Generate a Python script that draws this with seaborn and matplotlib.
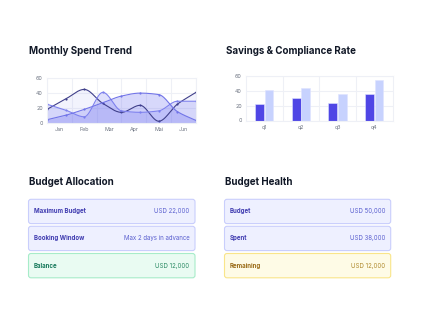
import numpy as np
import pandas as pd
import matplotlib
matplotlib.use("Agg")
import matplotlib.pyplot as plt
from matplotlib.patches import FancyBboxPatch
import seaborn as sns

# ---------------- data ----------------
months = ["Jan", "Feb", "Mar", "Apr", "Mai", "Jun"]
series_a = [18, 32, 45, 26, 14, 23.5, 2, 25, 41]
series_b = [25, 17, 8, 41, 16, 14, 16, 29, 29]
series_c = [4, 10, 18, 27, 36, 40, 38, 15, 3]

quarters = ["q1", "q2", "q3", "q4"]
savings = [22, 30, 24, 35]
compliance = [41, 44, 35, 54]

alloc_labels = ["Maximum Budget", "Booking Window", "Balance"]
alloc_values = ["USD 22,000", "Max 2 days in advance", "USD 12,000"]
health_labels = ["Budget", "Spent", "Remaining"]
health_values = ["USD 50,000", "USD 38,000", "USD 12,000"]

# ---------------- style ----------------
sns.set_theme(style="white")
plt.rcParams["font.family"] = ["Inter", "DejaVu Sans"]

W, H = 422, 322
fig = plt.figure(figsize=(W / 100, H / 100), dpi=100)
fig.patch.set_facecolor("white")


def px_axes(x0, y0, x1, y1):
    return fig.add_axes([x0 / W, 1 - y1 / H, (x1 - x0) / W, (y1 - y0) / H])


def monotone(x, y, n=200):
    x = np.asarray(x, float)
    y = np.asarray(y, float)
    h = np.diff(x)
    d = np.diff(y) / h
    m = np.zeros_like(y)
    m[0], m[-1] = d[0], d[-1]
    for i in range(1, len(y) - 1):
        if d[i - 1] * d[i] <= 0:
            m[i] = 0
        else:
            w1 = 2 * h[i] + h[i - 1]
            w2 = h[i] + 2 * h[i - 1]
            m[i] = (w1 + w2) / (w1 / d[i - 1] + w2 / d[i])
    xs = np.linspace(x[0], x[-1], n)
    idx = np.clip(np.searchsorted(x, xs) - 1, 0, len(x) - 2)
    t = (xs - x[idx]) / h[idx]
    h00 = 2 * t**3 - 3 * t**2 + 1
    h10 = t**3 - 2 * t**2 + t
    h01 = -2 * t**3 + 3 * t**2
    h11 = t**3 - t**2
    ys = h00 * y[idx] + h10 * h[idx] * m[idx] + h01 * y[idx + 1] + h11 * h[idx] * m[idx + 1]
    return xs, ys


tick_color = "#6b7280"
grid_color = "#eef0f6"

# ---------------- line chart ----------------
ax1 = px_axes(47, 78.3, 196, 122.7)
xpos = np.linspace(0, len(months), len(series_a))
styles = [
    (series_a, "#3f3f8a", "#6366f1", 0.08),
    (series_b, "#7e81ee", "#6366f1", 0.20),
    (series_c, "#7174e8", "#6366f1", 0.25),
]
for vals, lc, fc, al in styles:
    xs, ys = monotone(xpos, vals)
    ax1.fill_between(xs, 0, ys, color=fc, alpha=al, lw=0)
    sns.lineplot(x=xs, y=ys, ax=ax1, color=lc, lw=0.8, sort=False)
    sns.scatterplot(x=xpos, y=vals, ax=ax1, color=lc, s=2.5, linewidth=0)
ax1.set_xlim(0, len(months))
ax1.set_ylim(0, 60)
ax1.set_yticks([0, 20, 40, 60])
ax1.set_xticks(np.arange(len(months)) + 0.5)
ax1.set_xticklabels(months)
ax1.set_xticks(np.arange(len(months) + 1), minor=True)
ax1.grid(True, which="minor", axis="x", color=grid_color, lw=0.8)
ax1.grid(True, which="major", axis="y", color=grid_color, lw=0.8)
ax1.set_axisbelow(True)

# ---------------- bar chart ----------------
ax2 = px_axes(246, 75.7, 392.5, 120.5)
bar_df = pd.DataFrame({
    "quarter": quarters * 2,
    "value": savings + compliance,
    "kind": ["Savings"] * 4 + ["Compliance"] * 4,
})
sns.barplot(data=bar_df, x="quarter", y="value", hue="kind", ax=ax2,
            palette=["#4f46e5", "#c7d2fe"], width=0.52, gap=0.08,
            saturation=1, legend=False, edgecolor="#dfe3ff", linewidth=0.4)
ax2.set_ylim(0, 60)
ax2.set_xlim(-0.5, 3.5)
ax2.set_yticks([0, 20, 40, 60])
ax2.set_xticks([0.5, 1.5, 2.5], minor=True)
ax2.grid(True, which="minor", axis="x", color=grid_color, lw=0.8)
ax2.grid(True, which="major", axis="y", color=grid_color, lw=0.8)
ax2.set_axisbelow(True)

for ax in (ax1, ax2):
    ax.set_xlabel("")
    ax.set_ylabel("")
    for s in ax.spines.values():
        s.set_visible(True)
        s.set_color(grid_color)
        s.set_linewidth(0.8)
    ax.tick_params(axis="both", which="both", length=0, labelsize=3.8,
                   colors=tick_color, pad=3)
    ax.set_facecolor("white")

# ---------------- overlay: titles and cards ----------------
ov = fig.add_axes([0, 0, 1, 1])
ov.set_xlim(0, W)
ov.set_ylim(H, 0)
ov.axis("off")
ov.patch.set_alpha(0)

title_kw = dict(fontsize=7.0, fontweight="bold", color="#111827", va="center", ha="left")
ov.text(29, 50.5, "Monthly Spend Trend", **title_kw)
ov.text(226, 50.5, "Savings & Compliance Rate", **title_kw)
ov.text(29, 182, "Budget Allocation", **title_kw)
ov.text(225, 182, "Budget Health", **title_kw)

blue = ("#eef0ff", "#c9cefc", "#3f3bb0", "#5a5fcf")
green = ("#e9fbf2", "#a7ecc9", "#15785a", "#2a8a63")
yellow = ("#fefbe6", "#f9e58a", "#9a6b17", "#b08a2e")
card_tops = [199.3, 226.3, 253.5]
card_h = 24.3


def card(x0, x1, y0, label, value, sty):
    fc, ec, lc, vc = sty
    ov.add_patch(FancyBboxPatch((x0, y0), x1 - x0, card_h,
                                boxstyle="round,pad=0,rounding_size=2.5",
                                fc=fc, ec=ec, lw=0.8))
    yc = y0 + card_h / 2
    ov.text(x0 + 5.5, yc, label, fontsize=4.4, fontweight="bold", color=lc,
            va="center", ha="left")
    ov.text(x1 - 5.5, yc, value, fontsize=4.4, color=vc, va="center", ha="right")


for i, (lab, val) in enumerate(zip(alloc_labels, alloc_values)):
    card(28.5, 195, card_tops[i], lab, val, green if i == 2 else blue)
for i, (lab, val) in enumerate(zip(health_labels, health_values)):
    card(224.5, 390.7, card_tops[i], lab, val, yellow if i == 2 else blue)

fig.savefig("out.png", dpi=100, facecolor="white")
